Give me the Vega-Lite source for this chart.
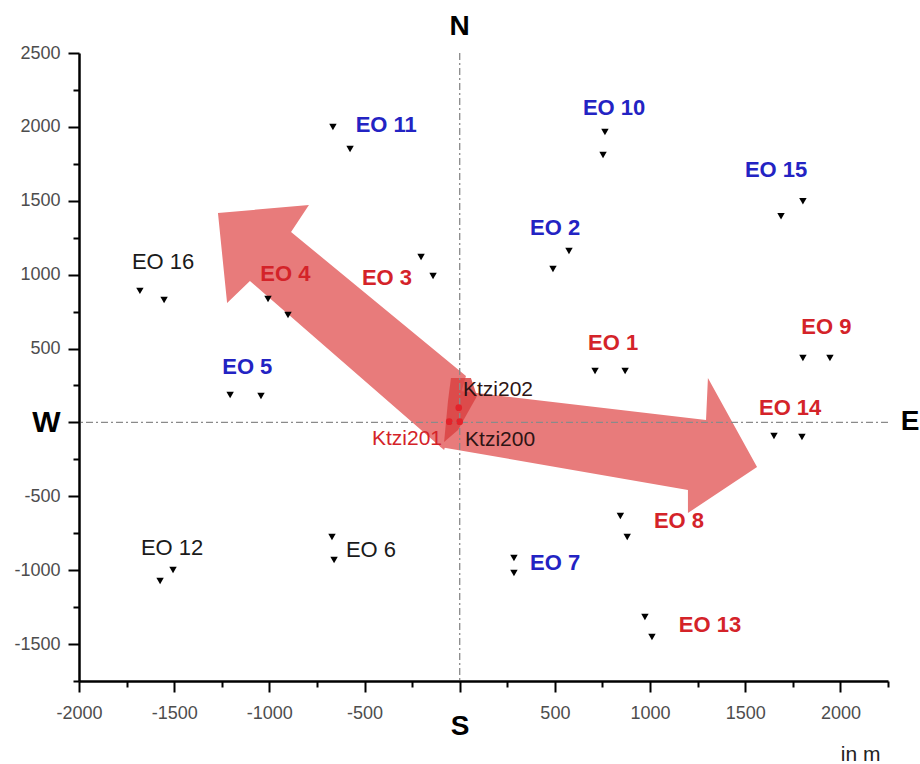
{
  "$schema": "https://vega.github.io/schema/vega-lite/v6.json",
  "width": 809,
  "height": 628,
  "autosize": "none",
  "padding": {"left": 79, "top": 53, "right": 32, "bottom": 83},
  "background": "white",
  "config": {"font": "Liberation Sans", "view": {"stroke": null}},
  "resolve": {"axis": {"y": "independent"}},
  "datasets": {
    "arrows": [
      {"arrow": "NW", "i": 1, "x": -1270, "y": 1417},
      {"arrow": "NW", "i": 2, "x": -792, "y": 1471},
      {"arrow": "NW", "i": 3, "x": -886, "y": 1289},
      {"arrow": "NW", "i": 4, "x": 33, "y": 314},
      {"arrow": "NW", "i": 5, "x": -82, "y": -187},
      {"arrow": "NW", "i": 6, "x": -1102, "y": 957},
      {"arrow": "NW", "i": 7, "x": -1222, "y": 808},
      {"arrow": "E", "i": 1, "x": -40, "y": 219},
      {"arrow": "E", "i": 2, "x": 1294, "y": 16},
      {"arrow": "E", "i": 3, "x": 1304, "y": 300},
      {"arrow": "E", "i": 4, "x": 1562, "y": -302},
      {"arrow": "E", "i": 5, "x": 1199, "y": -613},
      {"arrow": "E", "i": 6, "x": 1199, "y": -457},
      {"arrow": "E", "i": 7, "x": -103, "y": -166}
    ],
    "overlap": [
      {"i": 1, "x": -46, "y": 300},
      {"i": 2, "x": 59, "y": 300},
      {"i": 3, "x": 91, "y": 179},
      {"i": 4, "x": -9, "y": -51},
      {"i": 5, "x": -82, "y": -133},
      {"i": 6, "x": -61, "y": 152}
    ],
    "stations": [
      {"site": "EO 16", "x": -1680, "y": 890}, {"site": "EO 16", "x": -1553, "y": 829},
      {"site": "EO 12", "x": -1574, "y": -1073}, {"site": "EO 12", "x": -1506, "y": -999},
      {"site": "EO 11", "x": -666, "y": 1999}, {"site": "EO 11", "x": -576, "y": 1850},
      {"site": "EO 3", "x": -203, "y": 1119}, {"site": "EO 3", "x": -140, "y": 991},
      {"site": "EO 4", "x": -1007, "y": 835}, {"site": "EO 4", "x": -902, "y": 727},
      {"site": "EO 5", "x": -1206, "y": 185}, {"site": "EO 5", "x": -1044, "y": 179},
      {"site": "EO 6", "x": -671, "y": -775}, {"site": "EO 6", "x": -660, "y": -931},
      {"site": "EO 7", "x": 285, "y": -918}, {"site": "EO 7", "x": 285, "y": -1019},
      {"site": "EO 13", "x": 973, "y": -1317}, {"site": "EO 13", "x": 1010, "y": -1452},
      {"site": "EO 8", "x": 844, "y": -633}, {"site": "EO 8", "x": 880, "y": -776},
      {"site": "EO 14", "x": 1651, "y": -92}, {"site": "EO 14", "x": 1798, "y": -99},
      {"site": "EO 9", "x": 1803, "y": 436}, {"site": "EO 9", "x": 1945, "y": 436},
      {"site": "EO 1", "x": 711, "y": 348}, {"site": "EO 1", "x": 869, "y": 348},
      {"site": "EO 2", "x": 490, "y": 1038}, {"site": "EO 2", "x": 574, "y": 1160},
      {"site": "EO 10", "x": 763, "y": 1965}, {"site": "EO 10", "x": 753, "y": 1810},
      {"site": "EO 15", "x": 1688, "y": 1395}, {"site": "EO 15", "x": 1803, "y": 1497}
    ],
    "ktzi": [
      {"site": "Ktzi202", "x": -5, "y": 100},
      {"site": "Ktzi201", "x": -55, "y": 5},
      {"site": "Ktzi200", "x": 0, "y": 5}
    ],
    "labels": [
      {"label": "EO 10", "x": 811, "y": 2128, "grp": "blue", "w": "bold"},
      {"label": "EO 11", "x": -386, "y": 2013, "grp": "blue", "w": "bold"},
      {"label": "EO 2", "x": 501, "y": 1315, "grp": "blue", "w": "bold"},
      {"label": "EO 5", "x": -1116, "y": 376, "grp": "blue", "w": "bold"},
      {"label": "EO 7", "x": 501, "y": -952, "grp": "blue", "w": "bold"},
      {"label": "EO 15", "x": 1662, "y": 1708, "grp": "blue", "w": "bold"},
      {"label": "EO 1", "x": 806, "y": 538, "grp": "red", "w": "bold"},
      {"label": "EO 3", "x": -382, "y": 977, "grp": "red", "w": "bold"},
      {"label": "EO 4", "x": -916, "y": 1004, "grp": "red", "w": "bold"},
      {"label": "EO 8", "x": 1152, "y": -667, "grp": "red", "w": "bold"},
      {"label": "EO 9", "x": 1926, "y": 646, "grp": "red", "w": "bold"},
      {"label": "EO 13", "x": 1315, "y": -1371, "grp": "red", "w": "bold"},
      {"label": "EO 14", "x": 1736, "y": 98, "grp": "red", "w": "bold"},
      {"label": "EO 16", "x": -1558, "y": 1085, "grp": "black", "w": "normal"},
      {"label": "EO 12", "x": -1511, "y": -850, "grp": "black", "w": "normal"},
      {"label": "EO 6", "x": -466, "y": -864, "grp": "black", "w": "normal"}
    ],
    "ktzilabels": [
      {"label": "Ktzi202", "x": 17, "y": 219, "grp": "dark", "a": "left"},
      {"label": "Ktzi200", "x": 28, "y": -119, "grp": "dark", "a": "left"},
      {"label": "Ktzi201", "x": -93, "y": -112, "grp": "red", "a": "right"}
    ],
    "compass": [
      {"label": "N", "x": 0, "y": 2676},
      {"label": "E", "x": 2366, "y": 0}
    ]
  },
  "layer": [
    {
      "data": {"name": "arrows"},
      "mark": {"type": "line", "fill": "#e87b7b", "stroke": null},
      "encoding": {
        "x": {
          "field": "x", "type": "quantitative",
          "scale": {"domain": [-2000, 2250], "nice": false, "zero": false},
          "axis": {
            "values": [-2000, -1750, -1500, -1250, -1000, -750, -500, -250, 0, 250, 500, 750, 1000, 1250, 1500, 1750, 2000, 2250],
            "labelExpr": "datum.value === 0 ? 'S' : (datum.value % 500 === 0 ? '' + datum.value : '')",
            "labelOverlap": false, "labelFlush": false, "grid": false,
            "domainColor": "#000", "domainWidth": 2.5,
            "tickColor": "#000", "tickWidth": 2,
            "tickSize": {"condition": {"test": "datum.value % 500 !== 0", "value": 6}, "value": 11},
            "labelFontSize": {"condition": {"test": "datum.value === 0", "value": 28}, "value": 18},
            "labelFontWeight": {"condition": {"test": "datum.value === 0", "value": "bold"}, "value": "normal"},
            "labelColor": {"condition": {"test": "datum.value === 0", "value": "#000"}, "value": "#4d4d4d"},
            "labelPadding": {"condition": {"test": "datum.value === 0", "value": 20}, "value": 12},
            "title": "in m", "titleFontSize": 21, "titleFontWeight": "normal", "titleColor": "#222",
            "titleAnchor": "end", "titleAlign": "right", "titleBaseline": "alphabetic",
            "titleX": 801, "titleY": 79
          }
        },
        "y": {
          "field": "y", "type": "quantitative",
          "scale": {"domain": [-1750, 2500], "nice": false, "zero": false},
          "axis": {
            "orient": "left",
            "values": [-1500, -1000, -500, 0, 500, 1000, 1500, 2000, 2500],
            "labelExpr": "datum.value === 0 ? 'W' : '' + datum.value",
            "labelOverlap": false, "labelFlush": false, "grid": false,
            "domainColor": "#000", "domainWidth": 2.5,
            "tickColor": "#000", "tickWidth": 2, "tickSize": 11,
            "labelFontSize": {"condition": {"test": "datum.value === 0", "value": 30}, "value": 18},
            "labelFontWeight": {"condition": {"test": "datum.value === 0", "value": "bold"}, "value": "normal"},
            "labelColor": {"condition": {"test": "datum.value === 0", "value": "#000"}, "value": "#4d4d4d"},
            "labelPadding": 8,
            "title": null
          }
        },
        "detail": {"field": "arrow"},
        "order": {"field": "i", "type": "quantitative"}
      }
    },
    {
      "data": {"name": "overlap"},
      "mark": {"type": "line", "fill": "#d94343", "fillOpacity": 0.85, "stroke": null},
      "encoding": {
        "x": {"field": "x", "type": "quantitative", "scale": {"domain": [-2000, 2250], "nice": false, "zero": false}},
        "y": {"field": "y", "type": "quantitative", "scale": {"domain": [-1750, 2500], "nice": false, "zero": false}, "axis": null},
        "order": {"field": "i", "type": "quantitative"}
      }
    },
    {
      "data": {"values": [{}]},
      "mark": {"type": "rule", "color": "#8a8a8a", "strokeWidth": 1.3, "strokeDash": [7, 3, 2, 3]},
      "encoding": {
        "x": {"datum": 0, "type": "quantitative", "scale": {"domain": [-2000, 2250], "nice": false, "zero": false}}
      }
    },
    {
      "data": {"values": [{}]},
      "mark": {"type": "rule", "color": "#8a8a8a", "strokeWidth": 1.3, "strokeDash": [7, 3, 2, 3]},
      "encoding": {
        "y": {"datum": 0, "type": "quantitative", "scale": {"domain": [-1750, 2500], "nice": false, "zero": false}, "axis": null}
      }
    },
    {
      "data": {"name": "stations"},
      "mark": {"type": "point", "shape": "triangle-down", "filled": true, "color": "#000", "size": 55, "opacity": 1},
      "encoding": {
        "x": {"field": "x", "type": "quantitative", "scale": {"domain": [-2000, 2250], "nice": false, "zero": false}},
        "y": {"field": "y", "type": "quantitative", "scale": {"domain": [-1750, 2500], "nice": false, "zero": false},
          "axis": {
            "orient": "left",
            "values": [-1750, -1250, -750, -250, 250, 750, 1250, 1750, 2250],
            "labels": false, "domain": false, "grid": false, "title": null,
            "tickColor": "#000", "tickWidth": 2, "tickSize": 6
          }
        }
      }
    },
    {
      "data": {"name": "ktzi"},
      "mark": {"type": "circle", "color": "#e3222a", "size": 45, "opacity": 1},
      "encoding": {
        "x": {"field": "x", "type": "quantitative", "scale": {"domain": [-2000, 2250], "nice": false, "zero": false}},
        "y": {"field": "y", "type": "quantitative", "scale": {"domain": [-1750, 2500], "nice": false, "zero": false}, "axis": null}
      }
    },
    {
      "data": {"name": "labels"},
      "transform": [{"filter": {"field": "w", "equal": "bold"}}],
      "mark": {"type": "text", "fontSize": 22, "fontWeight": "bold", "align": "center", "baseline": "middle"},
      "encoding": {
        "x": {"field": "x", "type": "quantitative", "scale": {"domain": [-2000, 2250], "nice": false, "zero": false}},
        "y": {"field": "y", "type": "quantitative", "scale": {"domain": [-1750, 2500], "nice": false, "zero": false}, "axis": null},
        "text": {"field": "label"},
        "color": {"field": "grp", "type": "nominal", "legend": null,
          "scale": {"domain": ["blue", "red", "black", "dark"], "range": ["#2323c3", "#d42329", "#1a1a1a", "#2e1414"]}}
      }
    },
    {
      "data": {"name": "labels"},
      "transform": [{"filter": {"field": "w", "equal": "normal"}}],
      "mark": {"type": "text", "fontSize": 22, "fontWeight": "normal", "align": "center", "baseline": "middle"},
      "encoding": {
        "x": {"field": "x", "type": "quantitative", "scale": {"domain": [-2000, 2250], "nice": false, "zero": false}},
        "y": {"field": "y", "type": "quantitative", "scale": {"domain": [-1750, 2500], "nice": false, "zero": false}, "axis": null},
        "text": {"field": "label"},
        "color": {"field": "grp", "type": "nominal", "legend": null}
      }
    },
    {
      "data": {"name": "ktzilabels"},
      "transform": [{"filter": {"field": "a", "equal": "left"}}],
      "mark": {"type": "text", "fontSize": 21, "align": "left", "baseline": "middle"},
      "encoding": {
        "x": {"field": "x", "type": "quantitative", "scale": {"domain": [-2000, 2250], "nice": false, "zero": false}},
        "y": {"field": "y", "type": "quantitative", "scale": {"domain": [-1750, 2500], "nice": false, "zero": false}, "axis": null},
        "text": {"field": "label"},
        "color": {"field": "grp", "type": "nominal", "legend": null}
      }
    },
    {
      "data": {"name": "ktzilabels"},
      "transform": [{"filter": {"field": "a", "equal": "right"}}],
      "mark": {"type": "text", "fontSize": 21, "align": "right", "baseline": "middle"},
      "encoding": {
        "x": {"field": "x", "type": "quantitative", "scale": {"domain": [-2000, 2250], "nice": false, "zero": false}},
        "y": {"field": "y", "type": "quantitative", "scale": {"domain": [-1750, 2500], "nice": false, "zero": false}, "axis": null},
        "text": {"field": "label"},
        "color": {"field": "grp", "type": "nominal", "legend": null}
      }
    },
    {
      "data": {"name": "compass"},
      "mark": {"type": "text", "fontSize": 28, "fontWeight": "bold", "align": "center", "baseline": "middle", "color": "#000"},
      "encoding": {
        "x": {"field": "x", "type": "quantitative", "scale": {"domain": [-2000, 2250], "nice": false, "zero": false}},
        "y": {"field": "y", "type": "quantitative", "scale": {"domain": [-1750, 2500], "nice": false, "zero": false}, "axis": null},
        "text": {"field": "label"}
      }
    }
  ]
}
